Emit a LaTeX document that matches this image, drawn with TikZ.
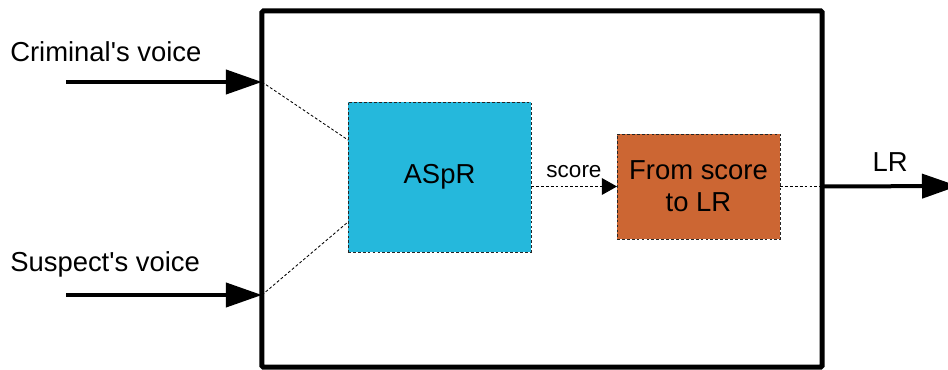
\documentclass[tikz,border=0pt]{standalone}
\usepackage{fontspec}
\setmainfont{Liberation Sans}
\usetikzlibrary{shapes,arrows.meta,calc}
\definecolor{asprblue}{RGB}{37,184,220}
\definecolor{lrorange}{RGB}{204,102,51}
\tikzstyle{system} = [draw, rectangle, line width=0.125cm, rounded corners=1pt,
    outer sep=0pt, minimum width=14cm, minimum height=8.9cm]
\tikzstyle{block} = [draw=black!85, dash pattern=on 2pt off 1.5pt, line width=0.6pt,
    rectangle, outer sep=0pt, align=center, font=\fontsize{19.5}{23}\selectfont]
\tikzstyle{label} = [inner sep=0pt, font=\fontsize{19.5}{23}\selectfont]
\tikzstyle{bigarrow} = [line width=0.1cm, -{Triangle[length=0.9cm,width=0.6cm]}]
\tikzstyle{thin link} = [line width=0.6pt, dash pattern=on 2pt off 1.5pt]

\begin{document}
\begin{tikzpicture}[x=0.025cm,y=-0.025cm]
\useasboundingbox (0,0) rectangle (948,369);
\coordinate (C) at (66,82);
\coordinate (S) at (66,295);
\coordinate (out) at (958,186);

\node[system] (sys) at (542,189) {};
\node[block, fill=asprblue, minimum width=4.575cm, minimum height=3.75cm] (aspr) at (439.5,177) {ASpR};
\node[block, fill=lrorange, minimum width=4.075cm, minimum height=2.625cm] (conv) at (698.5,186.5) {From score\\to LR};

\node[label, anchor=west] (crim) at (10,52) {Criminal\textquotesingle s voice};
\node[label, anchor=west] (susp) at (10,264) {Suspect\textquotesingle s voice};

% inputs
\draw[bigarrow] (C) -- (C -| sys.west);
\draw[bigarrow] (S) -- (S -| sys.west);
\draw[thin link] (C -| sys.west) -- ($(aspr.north west)!0.253!(aspr.south west)$);
\draw[thin link] (S -| sys.west) -- ($(aspr.north west)!0.8!(aspr.south west)$);

% score
\draw[thin link, -{Triangle[length=0.38cm,width=0.42cm]}] (aspr.east |- conv.west) -- node[above=6pt, inner sep=0pt, font=\fontsize{16}{19}\selectfont] {score} (conv.west);

% output
\draw[thin link] (conv.east) -- (conv.east -| sys.east);
\draw[bigarrow] (conv.east -| sys.east) -- node[midway, above=9pt, label] {LR} (out);
\end{tikzpicture}
\end{document}
